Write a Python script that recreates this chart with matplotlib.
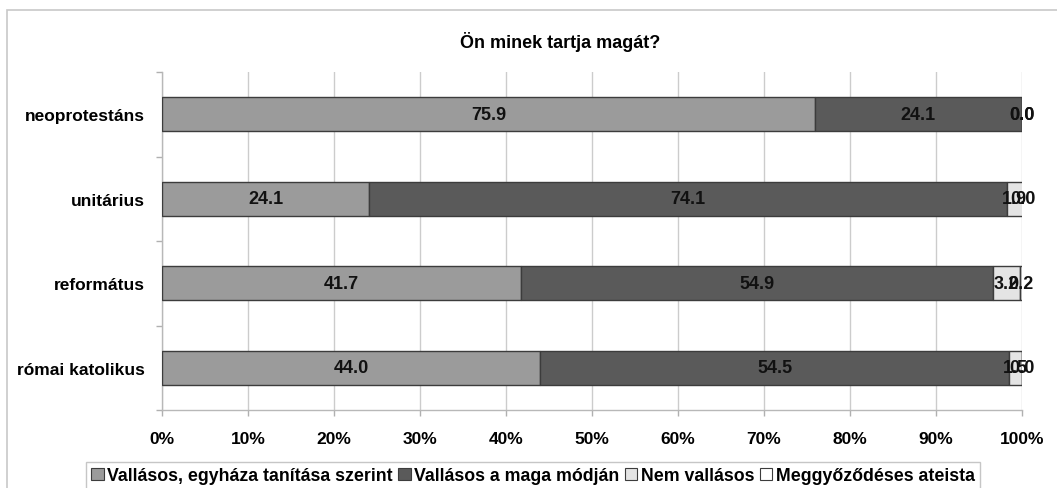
import numpy as np
import matplotlib.pyplot as plt
from matplotlib.patches import Rectangle, Patch

plt.rcParams['font.family'] = ['Liberation Sans', 'DejaVu Sans']
plt.rcParams['font.weight'] = 'bold'

# Adatok (alulról felfelé)
categories = ['római katolikus', 'református', 'unitárius', 'neoprotestáns']
series_names = ['Vallásos, egyháza tanítása szerint', 'Vallásos a maga módján',
                'Nem vallásos', 'Meggyőződéses ateista']
vallasos_egyhaz = [44.0, 41.7, 24.1, 75.9]
vallasos_maga = [54.5, 54.9, 74.1, 24.1]
nem_vallasos = [1.5, 3.2, 1.9, 0.0]
ateista = [0.0, 0.2, 0.0, 0.0]
colors = ['#9b9b9b', '#5a5a5a', '#e4e4e4', '#ffffff']
x_ticks = np.arange(0, 101, 10)

fig = plt.figure(figsize=(10.57, 4.89), dpi=100)
ax = fig.add_axes([162 / 1057, 1 - 411 / 489, 860 / 1057, 338 / 489])

# külső keret
fig.patches.append(Rectangle((7 / 1057, -0.1), 1.2, 1 - 11 / 489 + 0.1,
                             transform=fig.transFigure, fill=False,
                             edgecolor='#c8c8c8', linewidth=1.2, zorder=0))

y = np.arange(len(categories))
left = np.zeros(len(categories))
for vals, col in zip([vallasos_egyhaz, vallasos_maga, nem_vallasos, ateista], colors):
    vals = np.array(vals)
    ax.barh(y, vals, left=left, height=0.4, color=col, edgecolor='#3c3c3c',
            linewidth=1, zorder=3)
    for yi, l, v in zip(y, left, vals):
        ax.text(l + v / 2, yi, f'{v:.1f}', ha='center', va='center',
                fontsize=13, fontweight='bold', color='#111111', zorder=4)
    left += vals

ax.set_xlim(0, 100)
ax.set_ylim(-0.5, 3.5)
ax.set_xticks(x_ticks)
ax.set_xticklabels([f'{t}%' for t in x_ticks], fontsize=12.5, fontweight='bold')
ax.set_yticks(y)
ax.set_yticklabels(categories, fontsize=12.5, fontweight='bold')
ax.set_yticks(np.arange(-0.5, 4, 1), minor=True)
ax.tick_params(axis='y', which='major', length=0, pad=12)
ax.tick_params(axis='y', which='minor', length=4, color='#b0b0b0', width=1)
ax.tick_params(axis='x', length=4, color='#b0b0b0', width=1, pad=11)

ax.grid(axis='x', color='#cccccc', linewidth=1, zorder=0)
ax.set_axisbelow(True)
for s in ['top', 'right']:
    ax.spines[s].set_visible(False)
for s in ['left', 'bottom']:
    ax.spines[s].set_color('#b8b8b8')
    ax.spines[s].set_linewidth(1)

fig.text(0.53, 1 - 42 / 489, 'Ön minek tartja magát?', ha='center', va='center',
         fontsize=13, fontweight='bold')

handles = [Patch(facecolor=c, edgecolor='#3c3c3c', linewidth=0.8) for c in colors]
leg = fig.legend(handles, series_names, loc='upper left',
                 bbox_to_anchor=(86 / 1057, 1 - 463 / 489), ncol=4,
                 fontsize=12.8, handlelength=0.7, handleheight=0.7,
                 handletextpad=0.2, columnspacing=0.3, borderpad=0.3,
                 fancybox=False, frameon=True, borderaxespad=0)
leg.get_frame().set_edgecolor('#b8b8b8')
leg.get_frame().set_linewidth(1)
for t in leg.get_texts():
    t.set_fontweight('bold')

fig.savefig('out.png', dpi=100)
